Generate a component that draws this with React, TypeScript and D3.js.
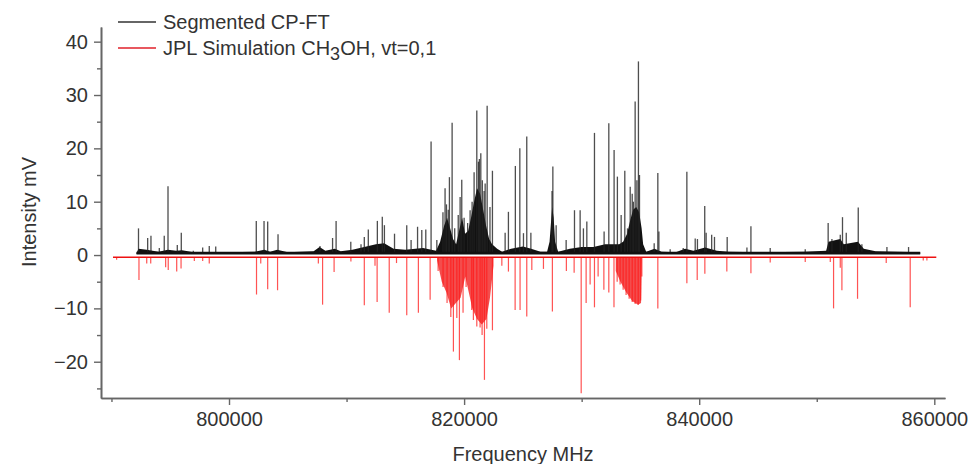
import { useEffect, useRef } from "react";
import * as d3 from "d3";

const W = 971;
const H = 464;
const FONT = "'Liberation Sans', Arial, sans-serif";

// axis ticks
const X_TICKS = [800000, 820000, 840000, 860000];
const X_MINOR = [790000, 810000, 830000, 850000];
const Y_TICKS = [-20, -10, 0, 10, 20, 30, 40];
const Y_MINOR = [-25, -15, -5, 5, 15, 25, 35];

// measured trace (MHz, mV)
const BLACK_RANGE = [792130, 858800];
const BLACK_BASE = 0.4;
const BLACK_PEAKS: [number, number][] = [
  [792300, 5.0], [793080, 3.2], [793360, 3.6], [794070, 1.3], [794490, 3.6],
  [794810, 12.9], [795600, 1.9], [795940, 4.2], [796960, 0.8], [797760, 1.4],
  [798320, 1.7], [798870, 1.6], [802320, 6.4], [802980, 6.4], [803290, 6.3],
  [804170, 3.9], [807740, 1.7], [808810, 3.2], [809110, 6.4], [810360, 2.5],
  [811230, 2.0], [811510, 3.4], [811850, 4.8], [812620, 6.4], [813040, 7.2],
  [813220, 5.6], [814080, 4.0], [815120, 5.6], [815490, 2.8], [816040, 5.3],
  [816400, 4.7], [816740, 4.8], [817190, 21.3], [817680, 2.8], [818200, 8.0],
  [818380, 12.5], [818500, 9.5], [818650, 8.5], [818750, 14.6], [818980, 24.8],
  [819200, 5.0], [819500, 7.5], [819660, 10.9], [819800, 14.1], [820000, 7.0],
  [820300, 6.0], [820510, 8.4], [820680, 10.0], [820850, 15.5], [821080, 27.1],
  [821220, 17.5], [821300, 18.0], [821420, 19.1], [821550, 14.0], [821700, 12.0],
  [821790, 13.4], [821960, 28.0], [822200, 9.0], [822410, 15.8], [823490, 4.2],
  [823770, 8.1], [824360, 16.7], [824740, 20.0], [825050, 4.1], [825330, 22.2],
  [825680, 4.2], [827480, 12.0], [827550, 16.6], [827830, 5.6], [828680, 2.8],
  [829390, 8.4], [829870, 8.4], [830150, 5.0], [830440, 6.3], [831090, 22.9],
  [831910, 4.4], [832310, 24.7], [832760, 19.7], [833040, 14.7], [833360, 7.5],
  [833670, 15.8], [833900, 5.0], [834130, 12.8], [834300, 11.5], [834400, 10.0],
  [834550, 28.8], [834700, 14.0], [834830, 36.3], [834920, 15.0], [836170, 2.2],
  [836480, 15.4], [836570, 4.4], [837530, 1.1], [838640, 1.3], [838950, 15.6],
  [839660, 3.1], [839850, 3.0], [840470, 9.2], [840590, 4.2], [841060, 3.8],
  [841300, 3.4], [842380, 3.4], [844060, 1.4], [844400, 5.4], [846040, 1.3],
  [849020, 1.1], [850970, 6.0], [851290, 3.0], [852000, 3.8], [852190, 7.1],
  [852510, 4.2], [853530, 8.9], [853840, 2.0], [855970, 1.5], [857810, 1.5],
];
// dense "grass" under the trace
const BLACK_ENVELOPE: [number, number][] = [
  [792130, 0.4], [792300, 1.2], [793000, 1.0], [793500, 0.8], [794000, 0.6],
  [794800, 1.0], [795500, 0.8], [796000, 0.9], [797000, 0.5], [800000, 0.5],
  [802200, 0.6], [803000, 1.0], [803500, 0.6], [804100, 1.0], [805000, 0.5],
  [807200, 0.7], [807700, 1.5], [808200, 0.8], [809000, 1.2], [809500, 0.7],
  [810500, 1.0], [811500, 1.5], [812500, 2.0], [813200, 2.2], [814000, 1.2],
  [815000, 1.0], [816500, 1.3], [817620, 0.8], [817960, 2.5], [818300, 5.5],
  [818550, 7], [818810, 5], [819060, 3], [819320, 2], [819570, 4.5],
  [819830, 7], [820080, 4], [820340, 4.5], [820590, 7], [820850, 10],
  [821100, 12.5], [821360, 11.5], [821620, 8.5], [821870, 5.5], [822130, 3],
  [822380, 2], [822810, 1.2], [823230, 0.6], [824000, 1.2], [825000, 1.6],
  [825700, 1.2], [826500, 0.6], [827060, 0.6], [827270, 2.5], [827490, 9],
  [827620, 7], [827740, 2.5], [828000, 0.6], [829000, 1.2], [830000, 1.5],
  [831000, 1.5], [832000, 2.0], [833190, 2.0], [833530, 2.5], [833870, 4],
  [834130, 6.5], [834380, 8.5], [834640, 9], [834890, 8], [835100, 5],
  [835230, 2], [835490, 0.6], [836200, 1.2], [836800, 0.6], [838000, 0.5],
  [838800, 1.2], [839500, 0.8], [840500, 1.4], [841500, 0.8], [842500, 0.6],
  [845000, 0.5], [849000, 0.6], [850800, 0.8], [851000, 2.5], [852000, 3.0],
  [852300, 2.0], [853500, 2.5], [854000, 1.2], [855000, 0.7], [858800, 0.5],
];

// JPL simulation sticks (MHz, mV)
const RED_RANGE = [790130, 860170];
const RED_BASE = -0.4;
const RED_STICKS: [number, number][] = [
  [790440, -0.9], [792340, -4.7], [793000, -1.6], [793340, -1.6], [794610, -2.3],
  [794830, -2.8], [795550, -3.1], [795920, -2.5], [797050, -1.1], [797760, -1.1],
  [798320, -1.6], [802340, -7.4], [802700, -1.6], [803290, -6.4], [804130, -6.6],
  [807600, -1.6], [807960, -9.3], [808940, -3.2], [810370, -1.2], [811510, -9.4],
  [812420, -2.0], [812600, -8.8], [813630, -10.8], [814250, -1.5], [815120, -11.3],
  [816110, -10.8], [817110, -8.4], [817790, -3], [818210, -6], [818550, -9],
  [818870, -11.6], [819090, -18.1], [819380, -11.8], [819600, -19.7], [819910, -10.8],
  [820170, -6], [820650, -10.3], [820790, -12.2], [821080, -13.4], [821360, -13.6],
  [821530, -15], [821730, -23.4], [821930, -13.8], [822410, -14.1], [823210, -2.0],
  [823770, -3.1], [824340, -10.3], [824760, -10.3], [825330, -11.5], [825760, -2.8],
  [826750, -2.6], [827510, -10.6], [828700, -3], [829360, -3.3], [829960, -25.9],
  [830380, -9], [830720, -5.5], [831090, -9.8], [831400, -4], [831890, -6.5],
  [832310, -7], [832750, -9.8], [833020, -5], [833270, -5.5], [833530, -6.5],
  [833780, -7.5], [834040, -8.2], [834300, -8.8], [834550, -9.2], [834810, -9.3],
  [835020, -8.5], [835120, -4], [836480, -10], [838950, -5.3], [839830, -4.7],
  [840480, -3.5], [842350, -3.1], [844400, -3.4], [846040, -1.4], [849020, -1.3],
  [851150, -1.3], [851430, -10], [852000, -2.4], [852140, -6.6], [853470, -8.2],
  [855910, -1.5], [857950, -9.8], [859060, -1], [859370, -1],
];
const RED_CLUSTER_A: [number, number][] = [
  [817700, -1], [818100, -5], [818500, -7], [818900, -10], [819300, -9],
  [819700, -8], [820100, -4], [820400, -7], [820700, -10], [821100, -12],
  [821500, -13], [821900, -12], [822200, -8], [822500, -2],
];
const RED_CLUSTER_B: [number, number][] = [
  [832900, -3], [833300, -5], [833800, -7], [834300, -8.6], [834800, -9.3],
  [835050, -9.0], [835120, -1],
];

function App() {
  const ref = useRef<SVGSVGElement>(null);

  useEffect(() => {
    const svg = d3.select(ref.current);
    svg.selectAll("*").remove();

    const x = d3.scaleLinear().domain([789110, 860910]).range([101, 945]);
    const y = d3.scaleLinear().domain([-26.8, 42.75]).range([398, 27]);

    const plot = svg.append("g");

    // simulation (red)
    const redArea = d3.area<[number, number]>()
      .x(d => x(d[0]))
      .y0(y(RED_BASE))
      .y1(d => y(d[1]));
    [RED_CLUSTER_A, RED_CLUSTER_B].forEach(c => {
      plot.append("path").attr("d", redArea(c)).attr("fill", "#f01010").attr("opacity", 0.75);
    });
    plot.selectAll(".red-stick")
      .data(RED_STICKS)
      .join("line")
      .attr("class", "red-stick")
      .attr("x1", d => x(d[0])).attr("x2", d => x(d[0]))
      .attr("y1", y(RED_BASE)).attr("y2", d => y(d[1]))
      .attr("stroke", "#ff1a1a").attr("stroke-width", 1.2).attr("opacity", 0.75);
    plot.append("line")
      .attr("x1", x(RED_RANGE[0])).attr("x2", x(RED_RANGE[1]))
      .attr("y1", y(RED_BASE)).attr("y2", y(RED_BASE))
      .attr("stroke", "#ee1111").attr("stroke-width", 1.5);

    // measurement (black)
    const blackArea = d3.area<[number, number]>()
      .x(d => x(d[0]))
      .y0(y(0.1))
      .y1(d => y(d[1]));
    plot.append("path").attr("d", blackArea(BLACK_ENVELOPE)).attr("fill", "#111");
    plot.selectAll(".black-stick")
      .data(BLACK_PEAKS)
      .join("line")
      .attr("class", "black-stick")
      .attr("x1", d => x(d[0])).attr("x2", d => x(d[0]))
      .attr("y1", y(BLACK_BASE)).attr("y2", d => y(d[1]))
      .attr("stroke", "#222").attr("stroke-width", 1.3).attr("opacity", 0.8);
    plot.append("line")
      .attr("x1", x(BLACK_RANGE[0])).attr("x2", x(BLACK_RANGE[1]))
      .attr("y1", y(BLACK_BASE)).attr("y2", y(BLACK_BASE))
      .attr("stroke", "#111").attr("stroke-width", 2.4);

    // axes
    const styleAxis = (g: any) => {
      g.select(".domain").attr("stroke", "#666").attr("stroke-width", 1.6);
      g.selectAll(".tick line").attr("stroke", "#666").attr("stroke-width", 1.4);
      g.selectAll("text").attr("fill", "#333").attr("font-size", 20).attr("font-family", FONT);
    };

    const yAxis = svg.append("g").attr("transform", "translate(101,0)")
      .call(d3.axisLeft(y).tickValues(Y_TICKS).tickSize(7).tickSizeOuter(0).tickPadding(6));
    styleAxis(yAxis);
    const yMinor = svg.append("g").attr("transform", "translate(101,0)")
      .call(d3.axisLeft(y).tickValues(Y_MINOR).tickSize(4).tickSizeOuter(0).tickFormat(() => ""));
    styleAxis(yMinor);

    const xAxis = svg.append("g").attr("transform", "translate(0,398)")
      .call(d3.axisBottom(x).tickValues(X_TICKS).tickSize(7).tickSizeOuter(0).tickPadding(7).tickFormat(d3.format("d")));
    styleAxis(xAxis);
    const xMinor = svg.append("g").attr("transform", "translate(0,398)")
      .call(d3.axisBottom(x).tickValues(X_MINOR).tickSize(4).tickSizeOuter(0).tickFormat(() => ""));
    styleAxis(xMinor);

    // axis titles
    svg.append("text")
      .attr("transform", "translate(36,212) rotate(-90)")
      .attr("text-anchor", "middle")
      .attr("font-family", FONT).attr("font-size", 20).attr("fill", "#333")
      .text("Intensity mV");
    svg.append("text")
      .attr("x", 523).attr("y", 461)
      .attr("text-anchor", "middle")
      .attr("font-family", FONT).attr("font-size", 20).attr("fill", "#333")
      .text("Frequency MHz");

    // legend
    const legend = svg.append("g");
    legend.append("line").attr("x1", 118).attr("x2", 156).attr("y1", 22).attr("y2", 22)
      .attr("stroke", "#333").attr("stroke-width", 1.3);
    legend.append("text").attr("x", 163).attr("y", 28.5)
      .attr("font-family", FONT).attr("font-size", 20).attr("fill", "#333")
      .text("Segmented CP-FT");
    legend.append("line").attr("x1", 118).attr("x2", 156).attr("y1", 48).attr("y2", 48)
      .attr("stroke", "#e0202a").attr("stroke-width", 1.3);
    const t2 = legend.append("text").attr("x", 163).attr("y", 55)
      .attr("font-family", FONT).attr("font-size", 20).attr("fill", "#333");
    t2.append("tspan").text("JPL Simulation CH");
    t2.append("tspan").attr("dy", 5).attr("font-size", 18).text("3");
    t2.append("tspan").attr("dy", -5).text("OH, vt=0,1");
  }, []);

  return (
    <svg
      ref={ref}
      width={W}
      height={H}
      style={{ position: "absolute", left: 0, top: 0, background: "#fff" }}
    />
  );
}

export default App;
